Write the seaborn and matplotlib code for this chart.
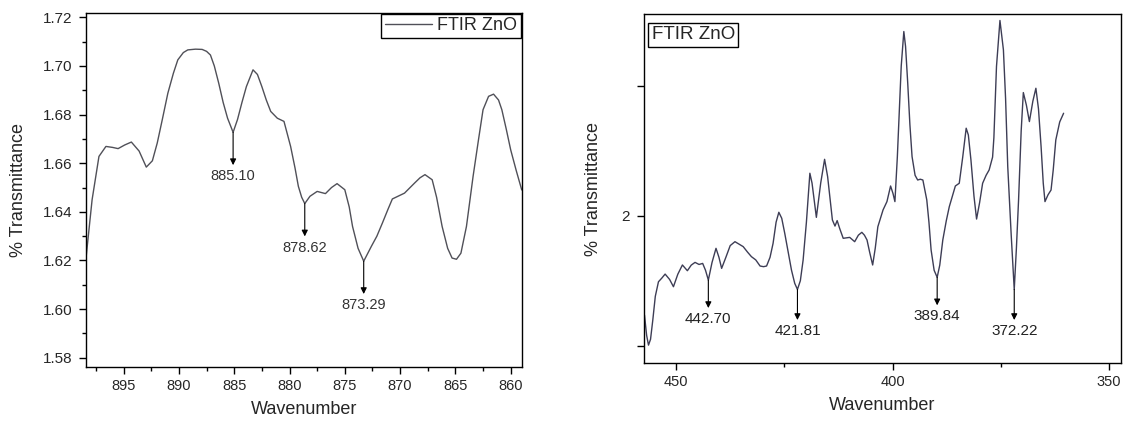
import numpy as np
import pandas as pd
import matplotlib
matplotlib.use("Agg")
import matplotlib.pyplot as plt
import seaborn as sns
from matplotlib.ticker import MultipleLocator, FixedLocator

# left panel: 898-859 cm-1
left_wn = [898.4, 897.85, 897.23, 896.6, 896.0, 895.5, 894.9, 894.3, 893.6, 892.95,
           892.4, 891.96, 891.5, 891.0, 890.5, 890.1, 889.6, 889.2, 888.5, 887.9,
           887.5, 887.15, 886.8, 886.4, 886.0, 885.6, 885.1, 884.7, 884.3, 883.9,
           883.3, 882.9, 882.5, 882.1, 881.7, 881.1, 880.5, 879.9, 879.5, 879.2,
           878.9, 878.62, 878.15, 877.5, 876.75, 876.2, 875.7, 875.0, 874.6, 874.3,
           873.8, 873.29, 872.6, 872.1, 871.6, 871.1, 870.7, 869.6, 868.7, 868.2,
           867.75, 867.1, 866.7, 866.2, 865.7, 865.3, 864.9, 864.5, 864.0, 863.4,
           862.9, 862.5, 862.0, 861.55, 861.1, 860.8, 860.4, 860.0, 859.5, 859.0]
left_tr = [1.621, 1.645, 1.6628, 1.6669, 1.6665, 1.666, 1.6675, 1.6687, 1.665, 1.6584,
           1.661, 1.6683, 1.678, 1.6888, 1.697, 1.7025, 1.7055, 1.7066, 1.7069, 1.7068,
           1.706, 1.7045, 1.700, 1.6929, 1.685, 1.6785, 1.6727, 1.678, 1.685, 1.6915,
           1.6984, 1.6965, 1.6915, 1.686, 1.6813, 1.6785, 1.6772, 1.6669, 1.658, 1.6505,
           1.646, 1.6434, 1.6464, 1.6484, 1.6475, 1.650, 1.6516, 1.6491, 1.642, 1.634,
           1.625, 1.6197, 1.6258, 1.630, 1.6354, 1.641, 1.6453, 1.6477, 1.6518, 1.654,
           1.6553, 1.6532, 1.646, 1.634, 1.625, 1.621, 1.6205, 1.623, 1.634, 1.6546,
           1.670, 1.682, 1.6875, 1.6884, 1.686, 1.682, 1.674, 1.6655, 1.657, 1.649]
left_peaks = [885.10, 878.62, 873.29]
left_peak_y = [1.6727, 1.6434, 1.6197]
left_labels = ["885.10", "878.62", "873.29"]

# right panel: 457-360 cm-1
right_wn = [457.3, 456.8, 456.37, 455.9, 455.38, 454.8, 454.07, 453.3, 452.53, 451.5,
            450.61, 449.6, 448.54, 447.39, 446.5, 445.62, 444.7, 443.86, 443.2, 442.55,
            441.7, 440.78, 440.1, 439.48, 438.5, 437.5, 436.4, 435.4, 434.5, 433.5,
            432.6, 431.6, 430.6, 429.8, 429.1, 428.3, 427.6, 426.9, 426.27, 425.6,
            424.9, 424.1, 423.35, 422.6, 421.97, 421.3, 420.66, 419.9, 419.1, 418.6,
            417.6, 416.6, 415.7, 415.0, 413.9, 413.3, 412.8, 412.2, 411.4, 410.6,
            409.9, 408.75, 407.9, 407.1, 406.5, 405.9, 405.3, 404.6, 404.0, 403.4,
            402.2, 401.3, 400.46, 399.9, 399.46, 398.9, 398.5, 398.0, 397.4, 397.0,
            396.5, 396.0, 395.5, 394.8, 394.2, 393.6, 393.0, 392.1, 391.6, 391.1,
            390.4, 389.7, 389.1, 388.4, 387.6, 386.9, 385.5, 384.6, 383.8, 383.0,
            382.5, 381.9, 381.2, 380.6, 379.9, 379.2, 378.4, 377.7, 376.9, 376.6,
            376.0, 375.2, 374.4, 373.9, 373.4, 372.6, 371.9, 371.4, 370.9, 370.3,
            369.8, 369.1, 368.4, 367.6, 366.9, 366.3, 365.7, 365.2, 364.8, 364.1,
            363.4, 362.9, 362.3, 361.4, 360.5]
right_tr = [1.9236, 1.908, 1.9005, 1.905, 1.9197, 1.938, 1.9492, 1.952, 1.9551, 1.951,
            1.9454, 1.955, 1.9621, 1.9577, 1.962, 1.9641, 1.9625, 1.9633, 1.958, 1.9505,
            1.964, 1.9749, 1.968, 1.9595, 1.968, 1.977, 1.980, 1.978, 1.9762, 1.972,
            1.9685, 1.966, 1.9613, 1.9608, 1.9613, 1.968, 1.9787, 1.995, 2.0026, 1.998,
            1.9864, 1.972, 1.9582, 1.948, 1.9433, 1.950, 1.9659, 1.995, 2.0326, 2.025,
            1.9987, 2.025, 2.0433, 2.030, 1.9967, 1.992, 1.9962, 1.990, 1.9826, 1.983,
            1.9833, 1.980, 1.985, 1.9872, 1.985, 1.9813, 1.972, 1.9621, 1.975, 1.9915,
            2.0044, 2.0108, 2.0228, 2.017, 2.0108, 2.045, 2.0762, 2.115, 2.1415, 2.130,
            2.1018, 2.070, 2.0454, 2.031, 2.0274, 2.028, 2.0274, 2.0121, 1.995, 1.9736,
            1.958, 1.9526, 1.962, 1.9813, 1.996, 2.0069, 2.0228, 2.0249, 2.045, 2.0672,
            2.062, 2.0428, 2.015, 1.9974, 2.010, 2.0249, 2.031, 2.0351, 2.045, 2.060,
            2.1146, 2.150, 2.1274, 2.09, 2.0377, 1.985, 1.9433, 1.975, 2.0121, 2.065,
            2.0946, 2.085, 2.0723, 2.088, 2.0979, 2.082, 2.0531, 2.025, 2.0108, 2.016,
            2.0197, 2.035, 2.0582, 2.072, 2.0787]
right_peaks = [442.55, 421.97, 389.7, 371.9]
right_peak_y = [1.9505, 1.9433, 1.9526, 1.9433]
right_labels = ["442.70", "421.81", "389.84", "372.22"]

df_left = pd.DataFrame({"Wavenumber": left_wn, "T": left_tr})
df_right = pd.DataFrame({"Wavenumber": right_wn, "T": right_tr})

sns.set_style("ticks")
plt.rcParams["font.family"] = ["Liberation Sans", "DejaVu Sans"]

fig = plt.figure(figsize=(11.23, 4.23), dpi=100)
ax1 = fig.add_axes([0.0766, 0.133, 0.388, 0.837])
ax2 = fig.add_axes([0.5735, 0.141, 0.4245, 0.826])

# ---- left
sns.lineplot(data=df_left, x="Wavenumber", y="T", ax=ax1, color="#505058",
             linewidth=1.0, label="FTIR ZnO")
ax1.set_xlim(898.4, 859.0)
ax1.set_ylim(1.5763, 1.7219)
ax1.xaxis.set_major_locator(MultipleLocator(5))
ax1.xaxis.set_minor_locator(MultipleLocator(2.5))
ax1.yaxis.set_major_locator(MultipleLocator(0.02))
ax1.yaxis.set_minor_locator(MultipleLocator(0.01))
ax1.yaxis.set_major_formatter(plt.FuncFormatter(lambda v, p: f"{v:.2f}"))
leg = ax1.legend(loc="upper right", borderaxespad=0.05, fancybox=False,
                 edgecolor="black", fontsize=13, handlelength=2.6,
                 handletextpad=0.3, borderpad=0.2, framealpha=1)
leg.get_frame().set_linewidth(1.0)

for x, y, lab in zip(left_peaks, left_peak_y, left_labels):
    ax1.annotate("", xy=(x, y - 0.0135), xytext=(x, y),
                 arrowprops=dict(arrowstyle="-|>", color="black", lw=0.8,
                                 mutation_scale=9, shrinkA=0, shrinkB=0))
    ax1.text(x, y - 0.0152, lab, ha="center", va="top", fontsize=10.5, color="#333333")

# ---- right
sns.lineplot(data=df_right, x="Wavenumber", y="T", ax=ax2, color="#3d3d55",
             linewidth=1.0)
ax2.set_xlim(457.4, 347.3)
ax2.set_ylim(1.8865, 2.155)
ax2.xaxis.set_major_locator(MultipleLocator(50))
ax2.xaxis.set_minor_locator(MultipleLocator(25))
ax2.yaxis.set_major_locator(FixedLocator([1.9, 2.0, 2.1]))
ax2.set_yticklabels(["", "2", ""])
ax2.text(0.016, 0.965, "FTIR ZnO", transform=ax2.transAxes, ha="left", va="top",
         fontsize=13.5, bbox=dict(boxstyle="square,pad=0.18", fc="white", ec="black", lw=1.0))

for x, y, lab in zip(right_peaks, right_peak_y, right_labels):
    drop = 0.0235 if lab in ("421.81", "372.22") else 0.0215
    ax2.annotate("", xy=(x, y - drop), xytext=(x, y),
                 arrowprops=dict(arrowstyle="-|>", color="black", lw=0.8,
                                 mutation_scale=9, shrinkA=0, shrinkB=0))
    ax2.text(x, y - drop - 0.003, lab, ha="center", va="top", fontsize=11, color="#222222")

for ax, lp in ((ax1, 11), (ax2, 14)):
    ax.set_xlabel("Wavenumber", fontsize=13, labelpad=6)
    ax.set_ylabel("% Transmittance", fontsize=13, labelpad=lp)
    ax.tick_params(axis="both", which="major", direction="out", length=5,
                   width=1, labelsize=10.5, color="black")
    ax.tick_params(axis="y", which="major", labelsize=11, pad=5)
    ax.tick_params(axis="both", which="minor", direction="out", length=3,
                   width=1, color="black")
    for s in ax.spines.values():
        s.set_color("black")
        s.set_linewidth(1.0)

fig.savefig("out.png", dpi=100)
